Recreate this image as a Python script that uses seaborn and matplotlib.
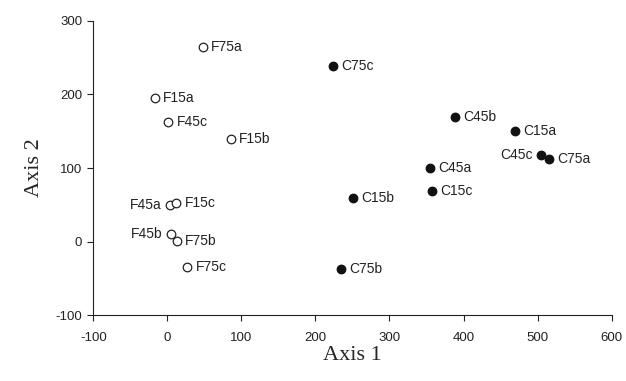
import matplotlib
matplotlib.use("Agg")
import matplotlib.pyplot as plt
import seaborn as sns
import pandas as pd

labels_f = ["F75a", "F15a", "F45c", "F15b", "F45a", "F15c", "F45b", "F75b", "F75c"]
x_f = [48, -17, 1, 86, 4, 12, 5, 13, 27]
y_f = [265, 195, 163, 139, 50, 52, 10, 1, -35]

labels_c = ["C75c", "C45b", "C15a", "C45c", "C75a", "C45a", "C15c", "C15b", "C75b"]
x_c = [224, 389, 469, 505, 516, 355, 357, 251, 235]
y_c = [239, 169, 150, 118, 112, 100, 69, 59, -37]

left_labels = ["F45a", "F45b", "C45c"]

x_ticks = [-100, 0, 100, 200, 300, 400, 500, 600]
y_ticks = [-100, 0, 100, 200, 300]

sns.set_style("white")
plt.rcParams["font.family"] = ["Liberation Sans", "DejaVu Sans"]
plt.rcParams["axes.unicode_minus"] = False

df_f = pd.DataFrame({"x": x_f, "y": y_f, "label": labels_f})
df_c = pd.DataFrame({"x": x_c, "y": y_c, "label": labels_c})

fig = plt.figure(figsize=(6.26, 3.81), dpi=100)
ax = fig.add_axes([0.149, 0.173, 0.828, 0.772])

sns.scatterplot(data=df_f, x="x", y="y", ax=ax, s=38, facecolor="white",
                edgecolor="#222222", linewidth=0.9, zorder=3)
sns.scatterplot(data=df_c, x="x", y="y", ax=ax, s=38, color="#111111",
                edgecolor="#111111", linewidth=0.9, zorder=3)

for df in (df_f, df_c):
    for _, r in df.iterrows():
        if r["label"] in left_labels:
            ax.annotate(r["label"], (r["x"], r["y"]), xytext=(-6, 0),
                        textcoords="offset points", ha="right", va="center",
                        fontsize=10, color="#222222")
        else:
            ax.annotate(r["label"], (r["x"], r["y"]), xytext=(6, 0),
                        textcoords="offset points", ha="left", va="center",
                        fontsize=10, color="#222222")

ax.set_xlim(-100, 600)
ax.set_ylim(-100, 300)
ax.set_xticks(x_ticks)
ax.set_yticks(y_ticks)
ax.tick_params(axis="both", direction="out", length=4.5, width=0.8,
               color="#222222", labelsize=9.5, labelcolor="#222222", bottom=True, left=True)
ax.tick_params(axis="x", pad=8)
for side in ["top", "right"]:
    ax.spines[side].set_visible(False)
for side in ["left", "bottom"]:
    ax.spines[side].set_color("#222222")
    ax.spines[side].set_linewidth(0.8)

ax.set_xlabel("Axis 1", family=["Liberation Serif", "DejaVu Serif"], fontsize=16, labelpad=1)
ax.set_ylabel("Axis 2", family=["Liberation Serif", "DejaVu Serif"], fontsize=16, labelpad=8)

fig.savefig("out.png", dpi=100)
